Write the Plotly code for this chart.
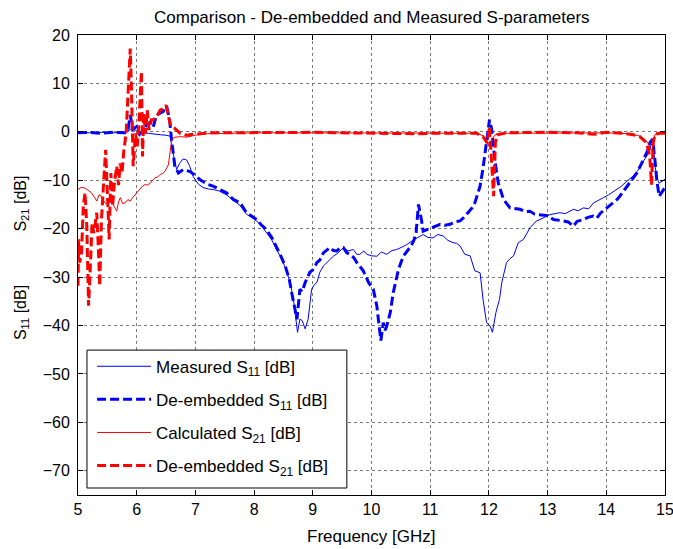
import plotly.graph_objects as go

# ---------------- data (frequency in GHz, level in dB) ----------------
meas_s11_f = [5.0, 5.2, 5.4, 5.6, 5.8, 5.9, 6.0, 6.1, 6.2, 6.3, 6.4, 6.5, 6.57, 6.62, 6.68, 6.73, 6.79,
              6.85, 6.9, 6.96, 7.05, 7.13, 7.22, 7.3, 7.4, 7.53, 7.65, 7.76, 7.87, 7.99, 8.1, 8.21, 8.3,
              8.38, 8.47, 8.56, 8.62, 8.67, 8.71, 8.74, 8.78, 8.82, 8.87, 8.92, 8.98, 9.03, 9.07, 9.12,
              9.18, 9.25, 9.35, 9.43, 9.52, 9.6, 9.69, 9.75, 9.8, 9.87, 9.92, 10.0, 10.09, 10.17, 10.26,
              10.35, 10.43, 10.52, 10.6, 10.68, 10.77, 10.88, 10.96, 11.05, 11.13, 11.22, 11.3, 11.39,
              11.45, 11.51, 11.59, 11.68, 11.76, 11.85, 11.9, 11.96, 12.02, 12.06, 12.12, 12.18, 12.22,
              12.3, 12.36, 12.42, 12.5, 12.59, 12.7, 12.81, 12.87, 13.04, 13.21, 13.3, 13.44, 13.52,
              13.61, 13.7, 13.78, 13.87, 13.95, 14.04, 14.12, 14.25, 14.35, 14.45, 14.52, 14.58, 14.63,
              14.7, 14.76, 14.8, 14.83, 14.87, 14.9, 14.94, 14.97, 15.0]
meas_s11_db = [-0.1, -0.2, -0.1, -0.2, -0.1, 0.5, 0.3, -0.2, -0.3, -0.5, -0.6, -0.7, -0.9, -4.4, -7.8,
               -6.5, -5.6, -5.8, -7.0, -9.2, -10.8, -11.5, -11.8, -11.9, -12.2, -13.0, -14.2, -15.2,
               -17.0, -17.9, -19.0, -20.8, -22.3, -24.3, -26.2, -29.0, -31.5, -34.6, -38.5, -41.4,
               -38.7, -39.0, -40.7, -38.7, -32.5, -31.5, -31.1, -29.0, -27.7, -26.8, -25.7, -25.0,
               -23.9, -24.6, -24.3, -25.3, -25.3, -24.6, -25.3, -25.6, -25.7, -24.8, -25.3, -24.5,
               -24.3, -23.8, -23.3, -22.6, -21.9, -21.2, -21.8, -21.9, -21.2, -21.5, -22.4, -22.9,
               -23.0, -23.6, -25.3, -25.6, -28.7, -29.1, -34.6, -39.4, -40.1, -41.4, -37.3, -34.6,
               -31.1, -27.0, -26.2, -25.6, -22.9, -22.2, -19.8, -18.4, -18.1, -17.1, -16.7, -16.9,
               -16.0, -16.3, -15.7, -15.9, -14.7, -14.2, -13.6, -13.0, -12.3, -11.3, -10.2, -9.2,
               -8.2, -7.4, -6.1, -4.8, -2.8, -2.0, -7.1, -9.8, -10.6, -10.2, -9.9, -9.8]

deemb_s11_f = [5.0, 5.2, 5.4, 5.6, 5.8, 5.85, 5.89, 5.93, 6.0, 6.05, 6.11, 6.17, 6.23, 6.28, 6.34, 6.4,
               6.45, 6.51, 6.56, 6.6, 6.65, 6.71, 6.79, 6.85, 6.91, 7.0, 7.08, 7.2, 7.3, 7.4, 7.53,
               7.65, 7.76, 7.87, 7.99, 8.04, 8.12, 8.21, 8.3, 8.38, 8.45, 8.53, 8.6, 8.64, 8.68, 8.71,
               8.73, 8.76, 8.78, 8.82, 8.87, 8.95, 9.0, 9.07, 9.12, 9.18, 9.29, 9.35, 9.41, 9.46, 9.52,
               9.58, 9.63, 9.7, 9.75, 9.86, 9.95, 10.03, 10.09, 10.13, 10.16, 10.2, 10.23, 10.26,
               10.32, 10.37, 10.46, 10.54, 10.6, 10.66, 10.72, 10.76, 10.8, 10.83, 10.85, 10.88,
               10.94, 11.0, 11.08, 11.17, 11.25, 11.34, 11.42, 11.51, 11.58, 11.65, 11.72, 11.76,
               11.82, 11.85, 11.9, 11.92, 11.97, 12.01, 12.05, 12.1, 12.16, 12.25, 12.36, 12.45,
               12.53, 12.62, 12.7, 12.78, 12.87, 13.0, 13.1, 13.2, 13.27, 13.35, 13.44, 13.5, 13.61,
               13.7, 13.78, 13.84, 13.9, 14.01, 14.1, 14.18, 14.23, 14.35, 14.46, 14.52, 14.63, 14.7,
               14.74, 14.79, 14.83, 14.86, 14.9, 14.97, 15.0]
deemb_s11_db = [-0.2, -0.1, -0.3, -0.1, -0.2, 0.2, 3.5, 0.5, 1.1, -0.5, 0.3, 1.5, 2.0, 1.0, 3.5, 3.8,
                4.2, 5.3, 2.5, -2.3, -7.1, -8.5, -7.8, -8.0, -8.2, -9.0, -9.9, -10.8, -11.2, -11.8,
                -12.6, -14.0, -14.6, -16.7, -17.6, -18.1, -19.2, -20.2, -21.8, -23.6, -25.5, -27.7,
                -30.5, -33.2, -35.5, -37.3, -38.7, -35.0, -32.5, -33.0, -31.1, -29.0, -28.5, -27.0,
                -26.5, -25.0, -23.9, -24.5, -24.6, -24.0, -23.9, -25.0, -25.3, -26.0, -27.0, -28.7,
                -31.1, -32.5, -35.9, -40.1, -43.1, -39.4, -41.0, -40.1, -37.3, -33.2, -28.4, -25.7,
                -24.8, -23.8, -22.5, -20.8, -15.0, -16.5, -18.1, -20.5, -20.2, -19.8, -19.5, -19.1,
                -19.3, -19.1, -18.6, -18.4, -17.6, -16.7, -15.6, -14.7, -12.5, -11.2, -7.5, -5.8,
                -1.0, 2.5, 0.4, -5.8, -10.6, -14.0, -15.7, -15.9, -16.0, -16.5, -16.4, -17.0, -17.1,
                -17.3, -18.1, -18.2, -18.4, -18.6, -19.5, -18.5, -18.1, -17.6, -17.4, -17.8, -16.8,
                -15.7, -14.8, -14.0, -13.3, -11.2, -9.5, -8.5, -5.8, -4.0, -2.3, -1.5, -6.0, -9.9,
                -13.3, -11.9, -11.5]

calc_s21_f = [5.0, 5.05, 5.12, 5.18, 5.23, 5.28, 5.32, 5.36, 5.4, 5.45, 5.49, 5.53, 5.57, 5.62, 5.66,
              5.69, 5.72, 5.76, 5.8, 5.85, 5.89, 5.93, 5.97, 6.02, 6.06, 6.1, 6.14, 6.18, 6.23, 6.27,
              6.31, 6.36, 6.4, 6.44, 6.48, 6.51, 6.54, 6.57, 6.6, 6.65, 6.75, 6.85, 7.0, 7.2, 7.5, 8.0,
              9.0, 10.0, 11.0, 11.8, 11.9, 11.96, 12.0, 12.04, 12.1, 12.2, 13.0, 14.0, 14.4, 14.55,
              14.65, 14.72, 14.77, 14.8, 14.83, 14.9, 15.0]
calc_s21_db = [-11.9, -11.5, -11.6, -12.2, -12.6, -13.5, -14.3, -13.0, -13.3, -14.5, -15.0, -14.0,
               -14.3, -15.5, -16.4, -14.5, -13.6, -14.8, -14.7, -14.0, -14.3, -13.6, -13.0, -12.3,
               -11.6, -11.2, -10.9, -11.0, -10.6, -10.0, -9.5, -9.3, -8.8, -8.6, -8.2, -7.5, -6.8,
               -4.0, -1.6, -1.1, -1.0, -1.1, -0.7, -0.4, -0.3, -0.2, -0.2, -0.2, -0.2, -0.3, -0.8,
               -2.0, -3.0, -1.8, -0.7, -0.3, -0.2, -0.2, -0.4, -0.8, -1.5, -2.5, -4.0, -2.0, -0.5,
               -0.3, -0.3]

deemb_s21_f = [5.0, 5.01, 5.03, 5.06, 5.09, 5.12, 5.15, 5.18, 5.22, 5.24, 5.27, 5.32, 5.35, 5.37, 5.4,
               5.43, 5.47, 5.51, 5.53, 5.56, 5.59, 5.62, 5.66, 5.69, 5.72, 5.75, 5.78, 5.82, 5.85,
               5.89, 5.91, 5.94, 5.98, 6.01, 6.04, 6.08, 6.1, 6.12, 6.15, 6.18, 6.21, 6.25, 6.28,
               6.34, 6.4, 6.45, 6.5, 6.54, 6.58, 6.65, 6.74, 6.85, 6.96, 7.25, 8.0, 9.0, 9.5, 10.0,
               10.5, 10.8, 11.0, 11.5, 11.79, 11.9, 11.97, 12.01, 12.05, 12.08, 12.11, 12.14, 12.3,
               13.0, 13.5, 13.8, 14.0, 14.3, 14.46, 14.57, 14.69, 14.74, 14.77, 14.8, 14.83, 14.9,
               15.0]
deemb_s21_db = [-31.8, -22.2, -27.0, -25.0, -15.4, -12.6, -19.5, -35.9, -25.0, -18.8, -20.9, -16.7,
                -25.0, -31.8, -18.1, -12.6, -3.7, -15.4, -22.2, -8.5, -15.4, -10.6, -7.1, -11.0,
                -6.5, -8.5, -4.0, -0.3, 8.0, 17.2, 9.3, -7.1, -0.3, -3.0, 2.5, 12.5, -5.1, 3.8,
                -0.3, 4.5, 0.4, 2.5, 2.5, 3.1, 4.5, 4.8, 5.5, 3.5, 1.1, 0.7, -0.3, -0.7, -0.5, -0.2,
                -0.1, -0.1, -0.2, -0.3, -0.3, -0.4, -0.3, -0.3, -0.3, -1.0, -2.3, 1.1, -7.1, -13.3,
                -2.3, -0.6, -0.2, -0.1, -0.2, -0.5, -0.1, -0.3, -0.6, -1.0, -2.3, -5.1, -10.9, -2.3,
                -0.5, -0.3, -0.3]

x_ticks = [5, 6, 7, 8, 9, 10, 11, 12, 13, 14, 15]
y_ticks = [-70, -60, -50, -40, -30, -20, -10, 0, 10, 20]

names = ["Measured S<sub>11</sub> [dB]", "De-embedded S<sub>11</sub> [dB]",
         "Calculated S<sub>21</sub> [dB]", "De-embedded S<sub>21</sub> [dB]"]

FONT = "Liberation Sans, Arial, sans-serif"
BLUE = "#0000FF"
RED = "#FF0000"
DASH = "9px,4px"

fig = go.Figure()
fig.add_trace(go.Scatter(x=meas_s11_f, y=meas_s11_db, mode="lines", name=names[0],
                         line=dict(color=BLUE, width=1), legendgroup="a"))
fig.add_trace(go.Scatter(x=deemb_s11_f, y=deemb_s11_db, mode="lines", name=names[1],
                         line=dict(color=BLUE, width=3, dash=DASH), legendgroup="b"))
fig.add_trace(go.Scatter(x=calc_s21_f, y=calc_s21_db, mode="lines", name=names[2],
                         line=dict(color=RED, width=1), legendgroup="c"))
fig.add_trace(go.Scatter(x=deemb_s21_f, y=deemb_s21_db, mode="lines", name=names[3],
                         line=dict(color=RED, width=3, dash=DASH), legendgroup="d"))

axis_common = dict(
    showline=True, linecolor="black", linewidth=1, mirror="allticks",
    ticks="inside", ticklen=5, tickcolor="black",
    showgrid=True, gridcolor="#7a7a7a", griddash="dot", gridwidth=1,
    zeroline=False, tickfont=dict(family=FONT, size=16, color="black"),
    ticklabeloverflow="allow", automargin=False,
)

fig.update_xaxes(range=[5, 15], tickvals=x_ticks, **axis_common)
fig.update_yaxes(range=[-75, 20], tickvals=y_ticks, ticklabelstandoff=4, **axis_common)

fig.update_layout(
    width=673, height=549,
    margin=dict(l=78, r=8, t=35, b=54, autoexpand=False),
    paper_bgcolor="white", plot_bgcolor="white",
    font=dict(family=FONT, size=16, color="black"),
    showlegend=True,
    legend=dict(x=0.024, y=0.318, xanchor="left", yanchor="top",
                bgcolor="rgba(0,0,0,0)", borderwidth=0,
                font=dict(family=FONT, size=17, color="black"),
                itemwidth=54, tracegroupgap=8, traceorder="grouped"),
    shapes=[dict(type="rect", xref="paper", yref="paper",
                 x0=0.0153, x1=0.458, y0=0.0152, y1=0.315,
                 line=dict(color="black", width=1), fillcolor="white", layer="above")],
    annotations=[
        dict(text="Comparison - De-embedded and Measured S-parameters", xref="paper", yref="paper",
             x=0.5, y=1, xanchor="center", yanchor="middle", yshift=18, showarrow=False,
             font=dict(family=FONT, size=17, color="black")),
        dict(text="Frequency [GHz]", xref="paper", yref="paper",
             x=0.5, y=0, xanchor="center", yanchor="middle", yshift=-41, showarrow=False,
             font=dict(family=FONT, size=17, color="black")),
        dict(text="S<sub>11</sub> [dB]" + "\u00a0" * 12 + "S<sub>21</sub> [dB]",
             xref="paper", yref="paper", x=0, y=0.515, xanchor="center", yanchor="middle",
             xshift=-57, textangle=-90, showarrow=False,
             font=dict(family=FONT, size=16, color="black")),
    ],
)

fig.write_html("out.html")
